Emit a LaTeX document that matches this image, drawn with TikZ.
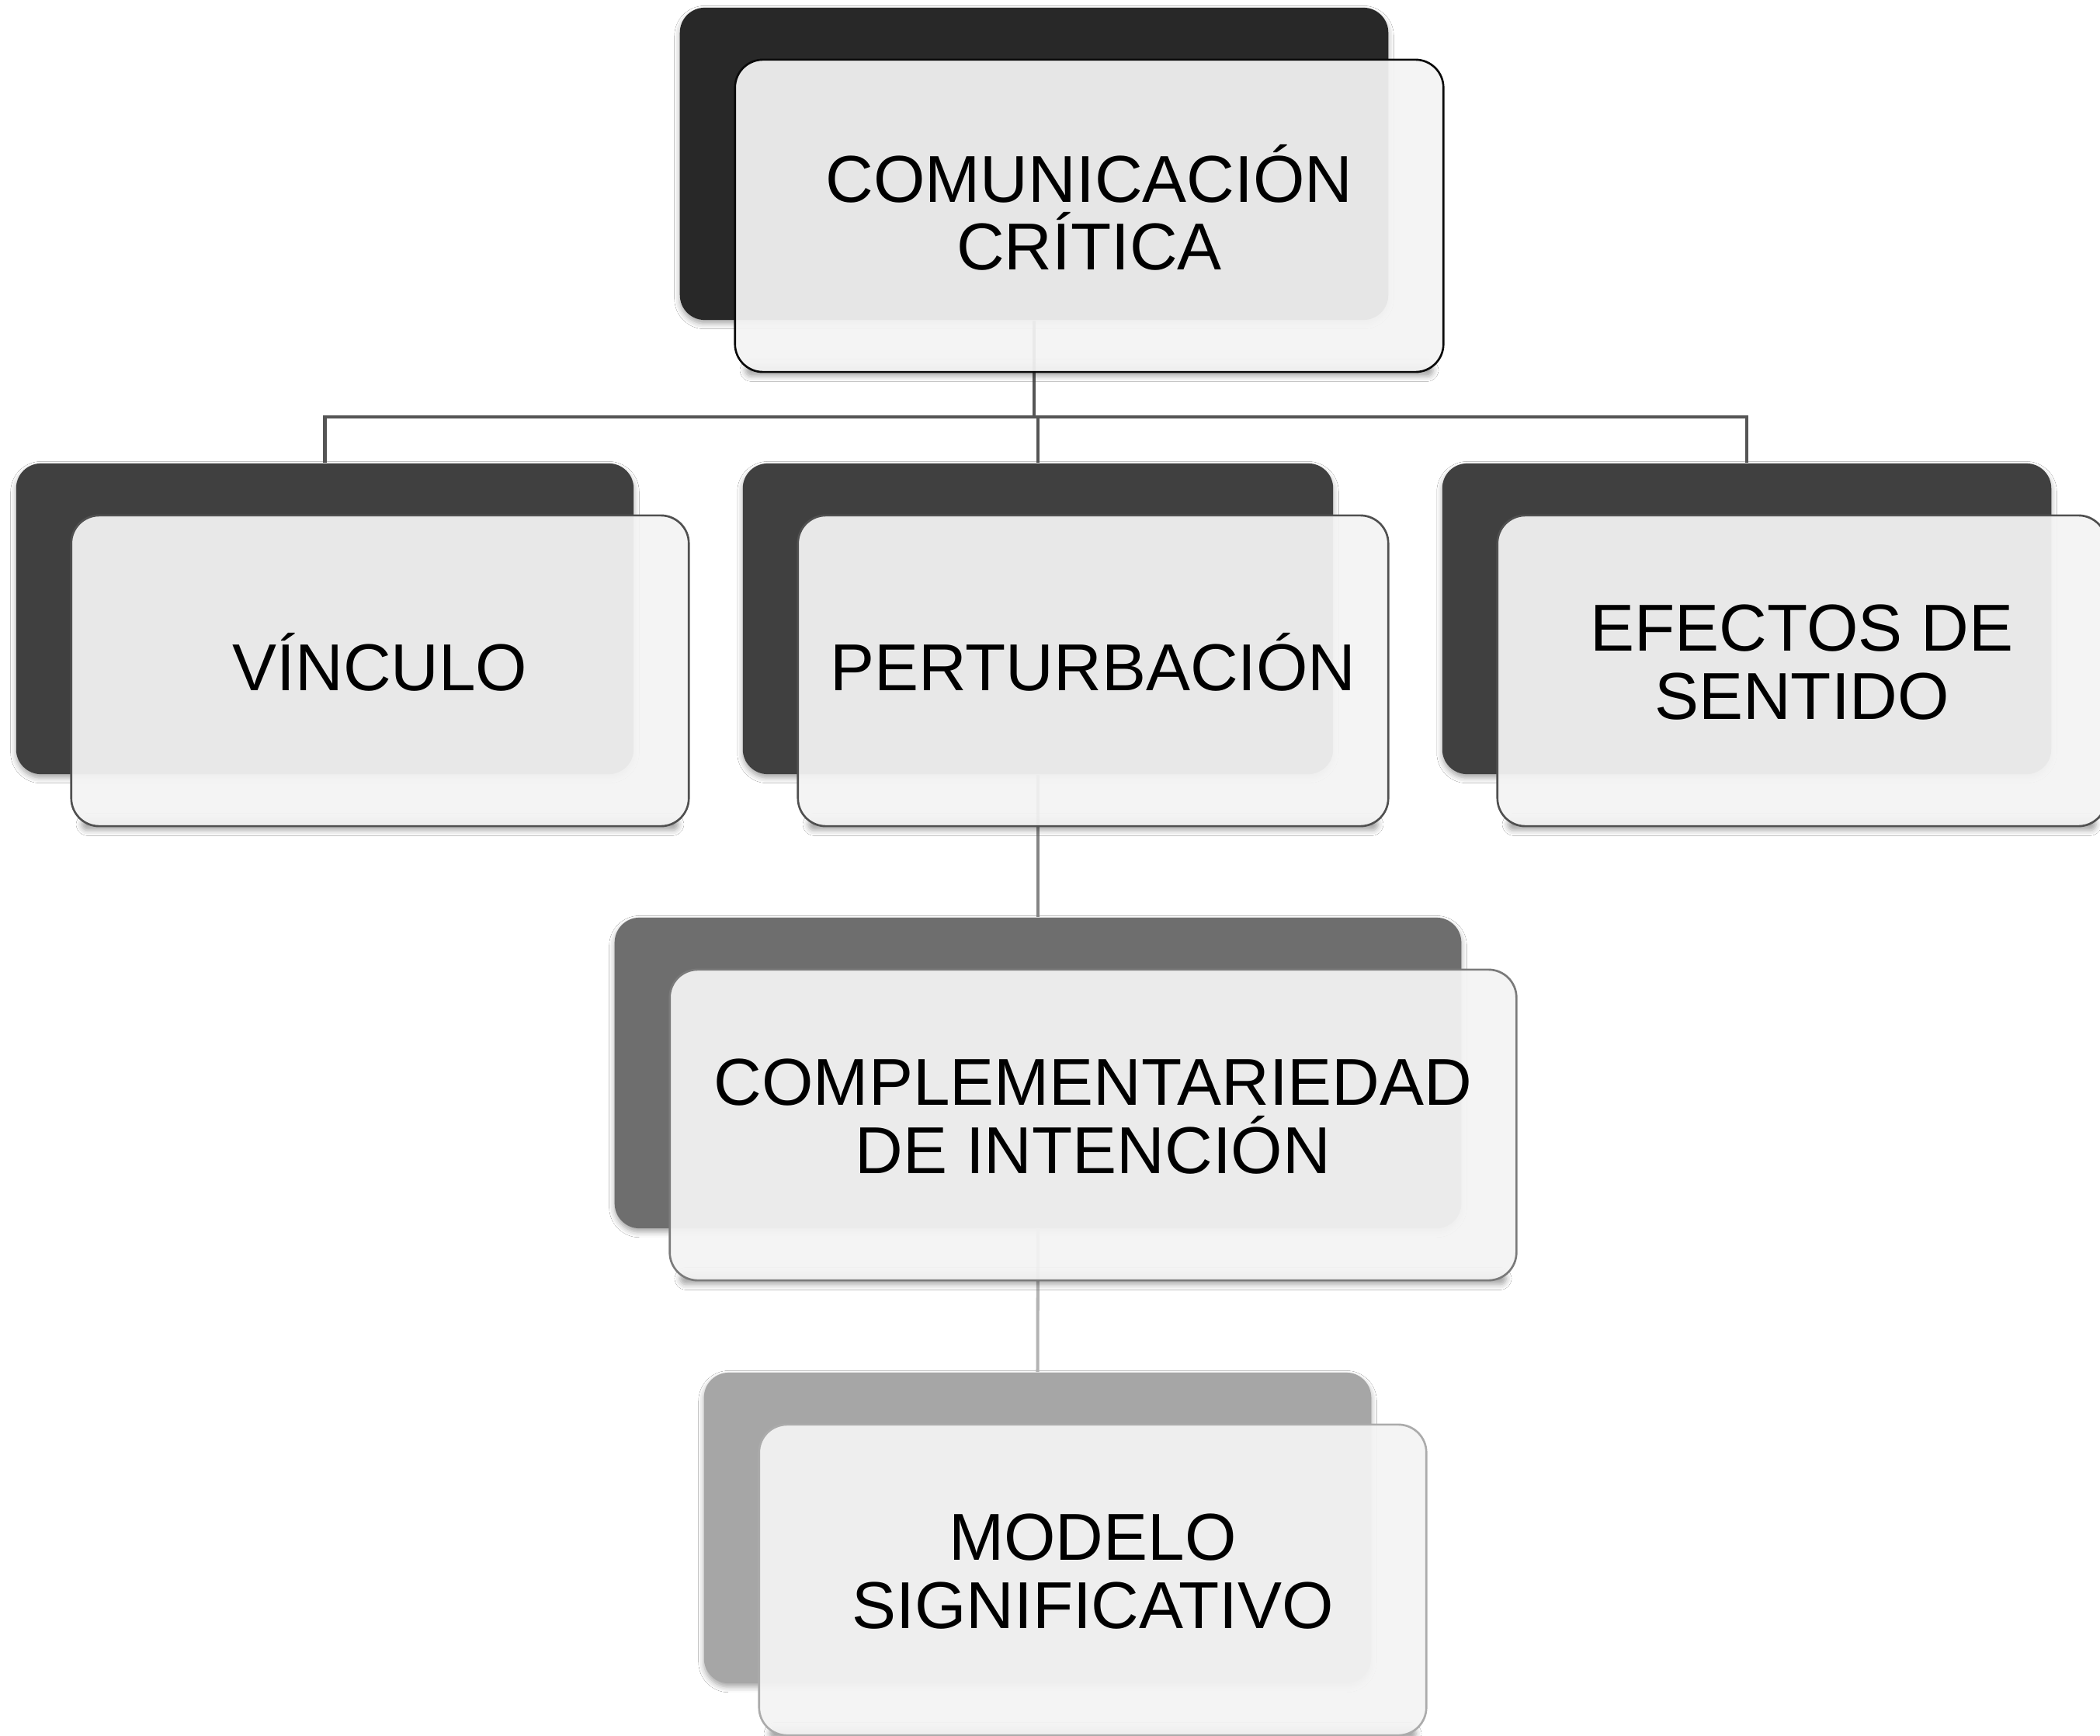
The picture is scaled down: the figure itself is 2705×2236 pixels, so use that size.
\documentclass[tikz,border=0pt]{standalone}
\usepackage{fontspec}
\setmainfont{Liberation Sans}
\usetikzlibrary{shadows.blur}
\definecolor{dkA}{HTML}{282828}
\definecolor{dkB}{HTML}{404040}
\definecolor{dkC}{HTML}{6E6E6E}
\definecolor{dkD}{HTML}{A6A6A6}
\definecolor{bdA}{HTML}{0A0A0A}
\definecolor{bdB}{HTML}{505050}
\definecolor{bdC}{HTML}{7A7A7A}
\definecolor{bdD}{HTML}{ABABAB}
\definecolor{lnA}{HTML}{555555}
\definecolor{lnB}{HTML}{858585}
\definecolor{lnC}{HTML}{B3B3B3}
\definecolor{lightf}{HTML}{F4F4F4}
\begin{document}
\begin{tikzpicture}[x=0.01cm,y=-0.01cm,
  softshadow/.style={blur shadow={shadow xshift=0pt, shadow yshift=-1.3pt, shadow blur radius=2pt, shadow opacity=35}},
  backbox/.style={rounded corners=0.32cm, inner sep=0pt, draw=none,
    minimum height=4.0cm, softshadow},
  frontbox/.style={rounded corners=0.36cm, inner sep=0pt, fill=lightf,
    fill opacity=0.935, line width=0.75pt, minimum height=4.0cm},
  frontshadow/.style={rounded corners=0.08cm, softshadow},
  label/.style={align=center, inner sep=0pt, text=black,
    font=\fontsize{24.3}{24.8}\selectfont},
  link/.style={line width=1.15pt}]
\useasboundingbox (0,0) rectangle (2705,2236);
\fill[white] (0,0) rectangle (2705,2236);

% back (dark) boxes
\node[backbox, fill=dkA, minimum width=9.12cm, minimum height=4.02cm] (topB) at (1332,211) {};
\node[backbox, fill=dkB, minimum width=7.95cm] (vinB) at (418.5,797) {};
\node[backbox, fill=dkB, minimum width=7.60cm] (perB) at (1337,797) {};
\node[backbox, fill=dkB, minimum width=7.84cm] (efeB) at (2250,797) {};
\node[backbox, fill=dkC, minimum width=10.90cm] (comB) at (1337,1382) {};
\node[backbox, fill=dkD, minimum width=8.59cm] (modB) at (1336.5,1968) {};

% connectors
\coordinate (bus) at (1332,537);
\draw[link, draw=lnA] (topB.south) -- (bus);
\draw[link, draw=lnA] (vinB.north) -- (vinB.north |- bus) -- (efeB.north |- bus) -- (efeB.north);
\draw[link, draw=lnA] (perB.north |- bus) -- (perB.north);
\draw[link, draw=lnB] (perB.south) -- (comB.north);
\draw[link, draw=lnC] (comB.south) -- (modB.north);

% shadows along the lower edge of the front boxes
\foreach \b in {topB,vinB,perB,efeB,comB,modB}
  \path[frontshadow] ([shift={(85,52)}]\b.south west) rectangle ([shift={(57,67)}]\b.south east);

% front (light) boxes
\node[frontbox, draw=bdA, minimum width=9.12cm, minimum height=4.02cm] (top) at (1403,278) {};
\node[frontbox, draw=bdB, minimum width=7.95cm] (vin) at (489.5,864) {};
\node[frontbox, draw=bdB, minimum width=7.60cm] (per) at (1408,864) {};
\node[frontbox, draw=bdB, minimum width=7.84cm] (efe) at (2321,864) {};
\node[frontbox, draw=bdC, minimum width=10.90cm] (com) at (1408,1449) {};
\node[frontbox, draw=bdD, minimum width=8.59cm] (mod) at (1407.5,2035) {};

% texts
\node[label] (topT) at ([yshift=0.11cm]top.center) {COMUNICACIÓN\\CRÍTICA};
\node[label] (vinT) at ([yshift=0.11cm]vin.center) {VÍNCULO};
\node[label] (perT) at ([yshift=0.11cm]per.center) {PERTURBACIÓN};
\node[label] (efeT) at ([yshift=0.11cm]efe.center) {EFECTOS DE\\SENTIDO};
\node[label] (comT) at ([yshift=0.11cm]com.center) {COMPLEMENTARIEDAD\\DE INTENCIÓN};
\node[label] (modT) at ([yshift=0.11cm]mod.center) {MODELO\\SIGNIFICATIVO};
\end{tikzpicture}
\end{document}
